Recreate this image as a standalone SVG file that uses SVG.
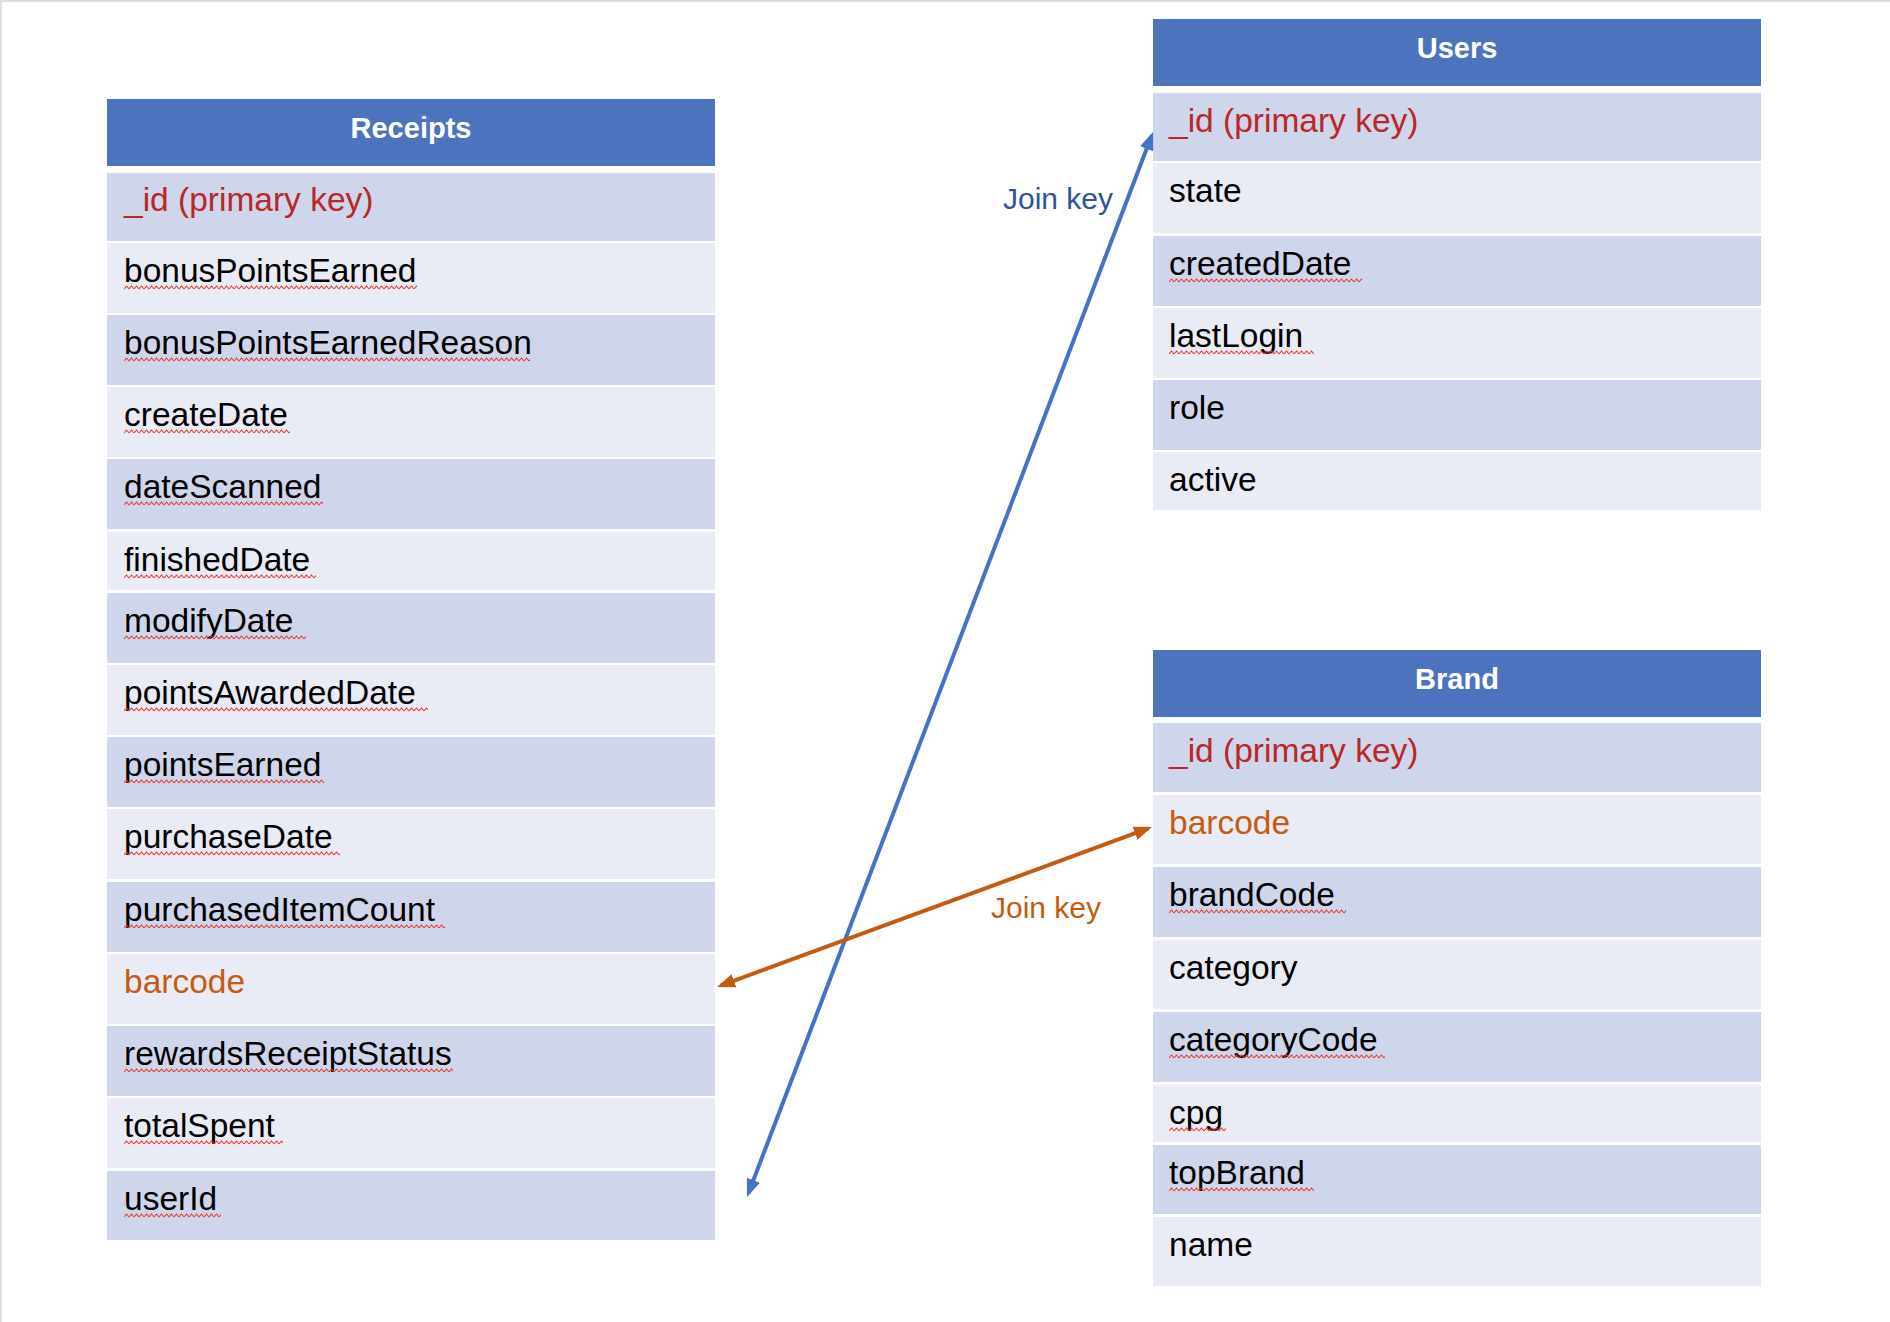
<svg xmlns="http://www.w3.org/2000/svg" width="1890" height="1322" viewBox="0 0 1890 1322">
  <style>
    .hdr { fill: #4D73BF; }
    .rd { fill: #CFD5EA; }
    .rl { fill: #E9EBF5; }
    .ht { font-family: "Liberation Sans", Arial, sans-serif; font-size: 29px; font-weight: bold; fill: #FFFFFF; text-anchor: middle; }
    .ft { font-family: "Liberation Sans", Arial, sans-serif; font-size: 33.5px; fill: #000000; }
    .pk { fill: #B82828; }
    .fk { fill: #C55A11; }
    .sq { fill: url(#wave); }
    .lbl { font-family: "Liberation Sans", Arial, sans-serif; font-size: 30px; }
    .conn { fill: none; stroke-width: 4; }
  </style>
  <defs>
    <pattern id="wave" patternUnits="userSpaceOnUse" width="5" height="5">
      <path d="M0,4 L2.5,1 L5,4" fill="none" stroke="#E8352A" stroke-width="1.1"/>
    </pattern>
    <marker id="arrBlue" markerUnits="userSpaceOnUse" viewBox="0 0 18 14" markerWidth="18" markerHeight="14" refX="14" refY="7" orient="auto-start-reverse">
      <path d="M0,0 L18,7 L0,14 Z" fill="#4472C4"/>
    </marker>
    <marker id="arrOrange" markerUnits="userSpaceOnUse" viewBox="0 0 18 14" markerWidth="18" markerHeight="14" refX="14" refY="7" orient="auto-start-reverse">
      <path d="M0,0 L18,7 L0,14 Z" fill="#C55A11"/>
    </marker>
  </defs>

  <rect x="0" y="0" width="1890" height="1322" fill="#FFFFFF"/>
  <path d="M1,1322 V1 H1890" fill="none" stroke="#DCDCDC" stroke-width="2"/>

  <!-- Receipts table -->
  <g id="receipts">
    <rect class="hdr" x="107" y="99" width="608" height="67"/>
    <text class="ht" x="411" y="138">Receipts</text>

    <rect class="rd" x="107" y="173" width="608" height="68"/>
    <text class="ft pk" x="124" y="211">_id (primary key)</text>

    <rect class="rl" x="107" y="243" width="608" height="70"/>
    <text class="ft" x="124" y="282">bonusPointsEarned</text>
    <rect class="sq" width="293" height="5" transform="translate(124,285)"/>

    <rect class="rd" x="107" y="315" width="608" height="70"/>
    <text class="ft" x="124" y="354">bonusPointsEarnedReason</text>
    <rect class="sq" width="406" height="5" transform="translate(124,357)"/>

    <rect class="rl" x="107" y="387" width="608" height="70"/>
    <text class="ft" x="124" y="426">createDate</text>
    <rect class="sq" width="166" height="5" transform="translate(124,429)"/>

    <rect class="rd" x="107" y="459" width="608" height="70"/>
    <text class="ft" x="124" y="498">dateScanned</text>
    <rect class="sq" width="199" height="5" transform="translate(124,501)"/>

    <rect class="rl" x="107" y="532" width="608" height="58"/>
    <text class="ft" x="124" y="571">finishedDate</text>
    <rect class="sq" width="192" height="5" transform="translate(124,574)"/>

    <rect class="rd" x="107" y="593" width="608" height="70"/>
    <text class="ft" x="124" y="632">modifyDate</text>
    <rect class="sq" width="182" height="5" transform="translate(124,635)"/>

    <rect class="rl" x="107" y="665" width="608" height="70"/>
    <text class="ft" x="124" y="704">pointsAwardedDate</text>
    <rect class="sq" width="304" height="5" transform="translate(124,707)"/>

    <rect class="rd" x="107" y="737" width="608" height="70"/>
    <text class="ft" x="124" y="776">pointsEarned</text>
    <rect class="sq" width="200" height="5" transform="translate(124,779)"/>

    <rect class="rl" x="107" y="809" width="608" height="70"/>
    <text class="ft" x="124" y="848">purchaseDate</text>
    <rect class="sq" width="216" height="5" transform="translate(124,851)"/>

    <rect class="rd" x="107" y="882" width="608" height="70"/>
    <text class="ft" x="124" y="921">purchasedItemCount</text>
    <rect class="sq" width="321" height="5" transform="translate(124,924)"/>

    <rect class="rl" x="107" y="954" width="608" height="70"/>
    <text class="ft fk" x="124" y="993">barcode</text>

    <rect class="rd" x="107" y="1026" width="608" height="70"/>
    <text class="ft" x="124" y="1065">rewardsReceiptStatus</text>
    <rect class="sq" width="329" height="5" transform="translate(124,1068)"/>

    <rect class="rl" x="107" y="1098" width="608" height="70"/>
    <text class="ft" x="124" y="1137">totalSpent</text>
    <rect class="sq" width="159" height="5" transform="translate(124,1140)"/>

    <rect class="rd" x="107" y="1171" width="608" height="69"/>
    <text class="ft" x="124" y="1210">userId</text>
    <rect class="sq" width="97" height="5" transform="translate(124,1213)"/>
  </g>

  <!-- Users table -->
  <g id="users">
    <rect class="hdr" x="1153" y="19" width="608" height="67"/>
    <text class="ht" x="1457" y="58">Users</text>

    <rect class="rd" x="1153" y="93" width="608" height="68"/>
    <text class="ft pk" x="1169" y="132">_id (primary key)</text>

    <rect class="rl" x="1153" y="163" width="608" height="70"/>
    <text class="ft" x="1169" y="202">state</text>

    <rect class="rd" x="1153" y="236" width="608" height="70"/>
    <text class="ft" x="1169" y="275">createdDate</text>
    <rect class="sq" width="193" height="5" transform="translate(1169,278)"/>

    <rect class="rl" x="1153" y="308" width="608" height="70"/>
    <text class="ft" x="1169" y="347">lastLogin</text>
    <rect class="sq" width="145" height="5" transform="translate(1169,350)"/>

    <rect class="rd" x="1153" y="380" width="608" height="70"/>
    <text class="ft" x="1169" y="419">role</text>

    <rect class="rl" x="1153" y="452" width="608" height="58"/>
    <text class="ft" x="1169" y="491">active</text>
  </g>

  <!-- Brand table -->
  <g id="brand">
    <rect class="hdr" x="1153" y="650" width="608" height="67"/>
    <text class="ht" x="1457" y="689">Brand</text>

    <rect class="rd" x="1153" y="723" width="608" height="69"/>
    <text class="ft pk" x="1169" y="762">_id (primary key)</text>

    <rect class="rl" x="1153" y="795" width="608" height="69"/>
    <text class="ft fk" x="1169" y="834">barcode</text>

    <rect class="rd" x="1153" y="867" width="608" height="70"/>
    <text class="ft" x="1169" y="906">brandCode</text>
    <rect class="sq" width="177" height="5" transform="translate(1169,909)"/>

    <rect class="rl" x="1153" y="940" width="608" height="69"/>
    <text class="ft" x="1169" y="979">category</text>

    <rect class="rd" x="1153" y="1012" width="608" height="70"/>
    <text class="ft" x="1169" y="1051">categoryCode</text>
    <rect class="sq" width="216" height="5" transform="translate(1169,1054)"/>

    <rect class="rl" x="1153" y="1085" width="608" height="57"/>
    <text class="ft" x="1169" y="1124">cpg</text>
    <rect class="sq" width="57" height="5" transform="translate(1169,1127)"/>

    <rect class="rd" x="1153" y="1145" width="608" height="69"/>
    <text class="ft" x="1169" y="1184">topBrand</text>
    <rect class="sq" width="145" height="5" transform="translate(1169,1187)"/>

    <rect class="rl" x="1153" y="1217" width="608" height="69"/>
    <text class="ft" x="1169" y="1256">name</text>
  </g>

  <!-- Connectors -->
  <g id="connectors">
    <line class="conn" x1="748.4" y1="1193.3" x2="1151.6" y2="135.7" stroke="#4472C4" marker-start="url(#arrBlue)" marker-end="url(#arrBlue)"/>
    <text class="lbl" x="1003" y="209" fill="#2F5597">Join key</text>
    <line class="conn" x1="720.8" y1="985.6" x2="1148.2" y2="828.4" stroke="#C55A11" marker-start="url(#arrOrange)" marker-end="url(#arrOrange)"/>
    <text class="lbl" x="991" y="918" fill="#C55A11">Join key</text>
  </g>
</svg>
